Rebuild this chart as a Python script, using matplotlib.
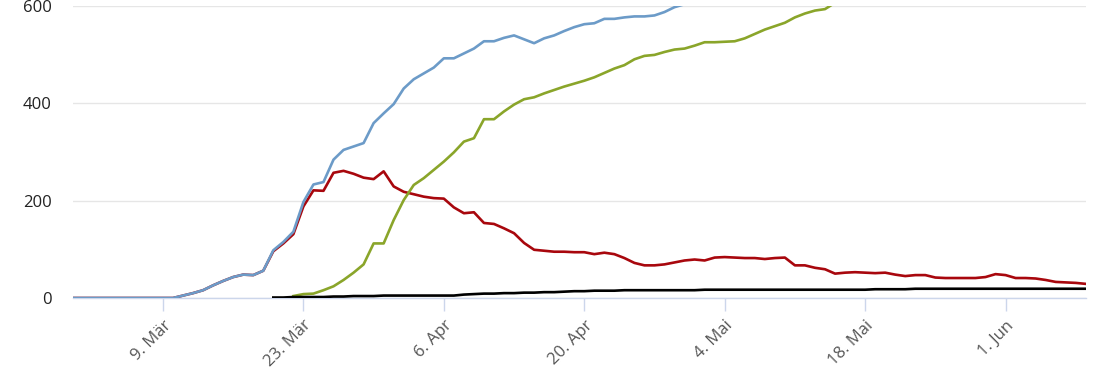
import pandas as pd
import matplotlib
matplotlib.use("Agg")
import matplotlib.pyplot as plt

# daily values
cases_start = "2020-02-29"
cases = [0] * 11 + [
    5, 10, 16, 26, 35, 43, 48, 47, 56,
    98, 115, 136, 197, 233, 238, 284, 304, 311, 318, 359, 379,
    398, 430, 449, 461, 473, 492, 492, 502, 512, 527,
    527, 534, 539, 531, 523, 533, 539, 548, 556, 562,
    564, 573, 573, 576, 578, 578, 580, 587, 597, 603,
    609, 614, 618, 621, 624, 628, 632, 636, 640, 644,
    647, 650, 653, 656, 660, 663, 666, 668, 670, 672,
    674, 676, 678, 680, 682, 684, 686, 688, 690, 692, 694,
    696, 698, 700, 702, 704, 705, 706, 707, 708,
]

active_start = "2020-02-29"
active = [0] * 11 + [
    5, 10, 16, 26, 35, 43, 48, 47, 56,
    96, 112, 131, 188, 221, 220, 257, 261, 255, 247, 244, 260,
    229, 218, 213, 208, 205, 204, 186, 174, 176, 154,
    152, 143, 133, 113, 99, 97, 95, 95, 94, 94,
    90, 93, 90, 82, 72, 67, 67, 69, 73, 77,
    79, 77, 83, 84, 83, 82, 82, 80, 82, 83,
    67, 67, 62, 59, 50, 52, 53, 52, 51, 52,
    48, 45, 47, 47, 42, 41, 41, 41, 41, 43, 49,
    47, 41, 41, 40, 37, 33, 32, 31, 29,
]

recovered_start = "2020-03-22"
recovered = [
    4, 8, 9, 16, 24, 37, 52, 69, 112, 112,
    160, 201, 232, 246, 263, 280, 299, 321, 328, 367,
    367, 383, 397, 408, 412, 420, 427, 434, 440, 446,
    453, 462, 471, 478, 490, 497, 499, 505, 510, 512,
    518, 525, 525, 526, 527, 533, 542, 551, 558, 565,
    576, 584, 590, 593, 606, 610, 614, 617, 620, 623,
    626, 628, 630, 633, 636, 638, 640, 642, 644, 646, 648,
    650, 652, 655, 658, 661, 664, 667, 670, 673,
]

deaths_start = "2020-03-20"
deaths = [
    1, 1, 2, 2, 2, 2, 3, 3, 4, 4, 4, 5,
    5, 5, 5, 5, 5, 5, 5, 7, 8, 9,
    9, 10, 10, 11, 11, 12, 12, 13, 14, 14,
    15, 15, 15, 16, 16, 16, 16, 16, 16, 16,
    16, 17, 17, 17, 17, 17, 17, 17, 17, 17,
    17, 17, 17, 17, 17, 17, 17, 17, 18, 18,
    18, 18, 19, 19, 19, 19, 19, 19, 19, 19, 19,
    19, 19, 19, 19, 19, 19, 19, 19, 19,
]

tick_dates = ["2020-03-09", "2020-03-23", "2020-04-06", "2020-04-20",
              "2020-05-04", "2020-05-18", "2020-06-01"]
tick_labels = ["9. Mär", "23. Mär", "6. Apr", "20. Apr", "4. Mai", "18. Mai", "1. Jun"]
y_ticks = [0, 200, 400, 600]

plt.rcParams["font.family"] = ["Open Sans", "DejaVu Sans"]

fig = plt.figure(figsize=(11.1, 3.7), dpi=100)
ax = fig.add_axes([0.0655, 0.1946, 0.9127, 0.79])


def dates(start, values):
    return pd.date_range(start, periods=len(values), freq="D")


ax.plot(dates(active_start, active), active, color="#a8070d", lw=1.9, zorder=3)
ax.plot(dates(recovered_start, recovered), recovered, color="#8aa52a", lw=1.9, zorder=4)
ax.plot(dates(cases_start, cases), cases, color="#6c9bc8", lw=1.9, zorder=5)
ax.plot(dates(deaths_start, deaths), deaths, color="#000000", lw=1.9, zorder=6)

ax.set_xlim(pd.Timestamp("2020-02-29"), pd.Timestamp("2020-06-09"))
ax.set_ylim(0, 600)

ax.set_yticks(y_ticks)
ax.set_yticklabels([str(v) for v in y_ticks], fontsize=12, color="#222222")
ax.tick_params(axis="y", length=0, pad=15)
ax.yaxis.grid(True, color="#e6e6e6", lw=1)

ax.set_xticks(pd.to_datetime(tick_dates))
ax.set_xticklabels(tick_labels, fontsize=12, color="#555555",
                   rotation=45, ha="right", rotation_mode="anchor")
ax.tick_params(axis="x", length=9, width=1, color="#ccd6eb", pad=5,
               direction="out")

for side in ["left", "right", "top"]:
    ax.spines[side].set_visible(False)
ax.spines["bottom"].set_color("#ccd6eb")
ax.spines["bottom"].set_linewidth(1)
ax.set_axisbelow(True)

fig.savefig("out.png", dpi=100)
